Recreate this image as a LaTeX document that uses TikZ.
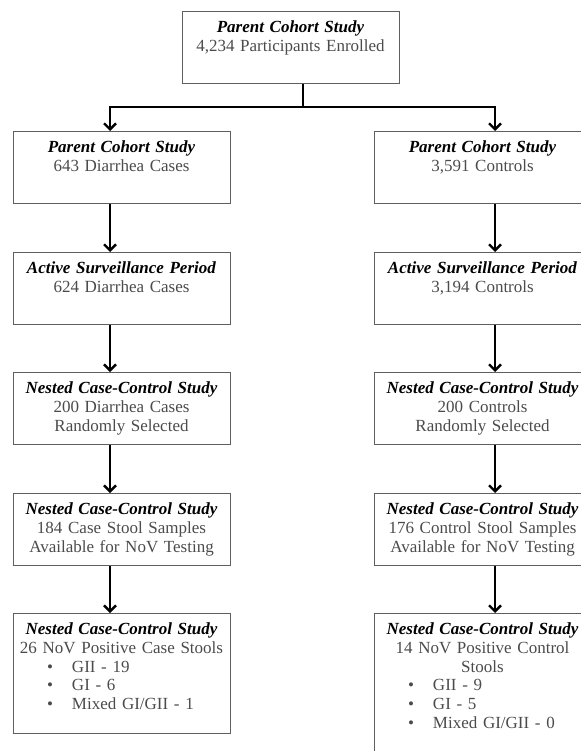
\documentclass[tikz,border=0pt]{standalone}
\usepackage{fontspec}
\setmainfont{Liberation Serif}
\definecolor{boxgray}{RGB}{95,95,95}
\definecolor{textgray}{RGB}{75,75,75}
\usetikzlibrary{arrows.meta}
\newcommand{\stagetitle}[1]{\textcolor{black}{\textbf{\textit{#1}}}}
\newcommand{\bitem}[1]{\makebox[\linewidth][l]{\hspace*{30pt}\makebox[25pt][l]{\textbullet}#1}}

\begin{document}
\begin{tikzpicture}[
      x=1pt, y=-1pt,
      stage/.style={draw=boxgray, line width=0.9pt, text=textgray, align=center,
                    text width=209pt, inner xsep=4pt, inner ysep=8pt,
                    text height=13pt, text depth=43pt, anchor=north,
                    font=\fontsize{17}{18.8}\selectfont},
      stagelast/.style={stage, text depth=91pt},
      line/.style={line width=2.4pt, black},
      arr/.style={line, -{Straight Barb[length=6pt, width=12pt]}}
    ]
    \useasboundingbox (0,0) rectangle (580,751);

    \node[stage] (top) at (290.5,11) {%
      \stagetitle{Parent Cohort Study}\\
      4,234 Participants Enrolled};

    % case arm
    \node[stage] (l1) at (121.5,131) {%
      \stagetitle{Parent Cohort Study}\\
      643 Diarrhea Cases};
    \node[stage] (l2) at (121.5,252) {%
      \stagetitle{Active Surveillance Period}\\
      624 Diarrhea Cases};
    \node[stage] (l3) at (121.5,372) {%
      \stagetitle{Nested Case-Control Study}\\
      200 Diarrhea Cases\\
      Randomly Selected};
    \node[stage] (l4) at (121.5,493) {%
      \stagetitle{Nested Case-Control Study}\\
      184 Case Stool Samples\\
      Available for NoV Testing};
    \node[stagelast] (l5) at (121.5,613) {%
      \stagetitle{Nested Case-Control Study}\\
      26 NoV Positive Case Stools\\
      \bitem{GII - 19}\\
      \bitem{GI - 6}\\
      \bitem{Mixed GI/GII - 1}};

    % control arm
    \node[stage] (r1) at (482.5,131) {%
      \stagetitle{Parent Cohort Study}\\
      3,591 Controls};
    \node[stage] (r2) at (482.5,252) {%
      \stagetitle{Active Surveillance Period}\\
      3,194 Controls};
    \node[stage] (r3) at (482.5,372) {%
      \stagetitle{Nested Case-Control Study}\\
      200 Controls\\
      Randomly Selected};
    \node[stage] (r4) at (482.5,493) {%
      \stagetitle{Nested Case-Control Study}\\
      176 Control Stool Samples\\
      Available for NoV Testing};
    \node[stagelast, text depth=130pt] (r5) at (482.5,613) {%
      \stagetitle{Nested Case-Control Study}\\
      14 NoV Positive Control\\
      Stools\\
      \bitem{GII - 9}\\
      \bitem{GI - 5}\\
      \bitem{Mixed GI/GII - 0}};

    \coordinate (split) at (303,107);
    \coordinate (colL) at (110,0);
    \coordinate (colR) at (495,0);

    \draw[line] (top.south -| split) -- (split);
    \draw[arr] (split) -| (l1.north -| colL);
    \draw[arr] (split) -| (r1.north -| colR);

    \draw[arr] (l1.south -| colL) -- (l2.north -| colL);
    \draw[arr] (l2.south -| colL) -- (l3.north -| colL);
    \draw[arr] (l3.south -| colL) -- (l4.north -| colL);
    \draw[arr] (l4.south -| colL) -- (l5.north -| colL);

    \draw[arr] (r1.south -| colR) -- (r2.north -| colR);
    \draw[arr] (r2.south -| colR) -- (r3.north -| colR);
    \draw[arr] (r3.south -| colR) -- (r4.north -| colR);
    \draw[arr] (r4.south -| colR) -- (r5.north -| colR);
  \end{tikzpicture}
\end{document}
